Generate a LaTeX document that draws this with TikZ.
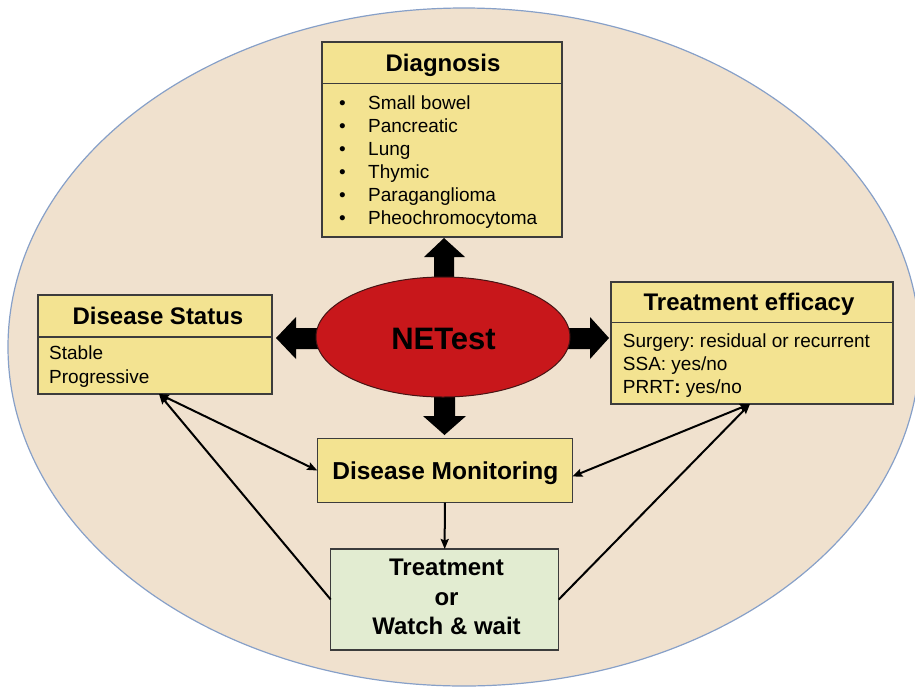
\documentclass[tikz,border=0pt]{standalone}
\usepackage{fontspec}
\setmainfont{Liberation Sans}
\frenchspacing
\usetikzlibrary{arrows.meta,calc,shapes.geometric}
\definecolor{bgfill}{RGB}{240,225,206}
\definecolor{bgline}{RGB}{135,160,200}
\definecolor{boxyellow}{RGB}{243,227,145}
\definecolor{boxgreen}{RGB}{226,236,209}
\definecolor{boxline}{RGB}{60,60,60}
\definecolor{netred}{RGB}{200,23,27}
\definecolor{netline}{RGB}{70,20,20}
\begin{document}
\begin{tikzpicture}[x=1pt,y=-1pt,
  box/.style={draw=boxline, line width=1.2pt, inner sep=0pt, outer sep=0pt, rectangle},
  ybox/.style={box, fill=boxyellow},
  gbox/.style={box, fill=boxgreen},
  ttl/.style={font=\fontsize{24}{29.7}\selectfont\bfseries, anchor=base, inner sep=0pt},
  bodytxt/.style={anchor=base west, inner sep=0pt},
  divider/.style={draw=boxline, line width=1.2pt},
  con/.style={line width=2pt, -{Stealth[length=10pt,width=8pt,inset=1.5pt]}},
  dcon/.style={line width=2pt, {Stealth[length=10pt,width=8pt,inset=1.5pt]}-{Stealth[length=10pt,width=8pt,inset=1.5pt]}},
  blk/.style={fill=black}
]
\useasboundingbox (0,0) rectangle (915,686);
\clip (0,0) rectangle (915,686);
% background
\draw[fill=bgfill, draw=bgline, line width=1.2pt] (464,347) ellipse [x radius=456pt, y radius=339pt];

% block arrows (behind the ellipse)
\fill[blk] (434,284) -- (434,257) -- (424,257) -- (444,238) -- (465,257) -- (454,257) -- (454,284) -- cycle;
\fill[blk] (434,390) -- (434,416) -- (423,416) -- (444.5,435) -- (466,416) -- (455,416) -- (455,390) -- cycle;
\fill[blk] (324,328) -- (296,328) -- (296,317) -- (276,338) -- (296,359) -- (296,349) -- (324,349) -- cycle;
\fill[blk] (562,328) -- (590,328) -- (590,317) -- (609,338) -- (590,359) -- (590,349) -- (562,349) -- cycle;

% NETest
\node[ellipse, fill=netred, draw=netline, line width=1pt, minimum width=254pt, minimum height=120pt, inner sep=0pt] (net) at (443,337) {};
\node[font=\fontsize{31}{36}\selectfont\bfseries, anchor=base, inner sep=0pt] (nett) at (443.5,349.4) {NETest};

% Diagnosis
\node[ybox, minimum width=240pt, minimum height=195pt] (diag) at (442,139.5) {};
\draw[divider] ($(diag.north west)+(0,41.5)$) -- ($(diag.north east)+(0,41.5)$);
\node[ttl] (diagt) at ($(diag.north)+(1,29.6)$) {Diagnosis};
\node[bodytxt, font=\fontsize{19}{22.9}\selectfont] (diagl) at (339,109.8) {\begin{tabular}[t]{@{}p{29pt}@{}l@{}}
\textbullet & Small bowel\\
\textbullet & Pancreatic\\
\textbullet & Lung\\
\textbullet & Thymic\\
\textbullet & Paraganglioma\\
\textbullet & Pheochromocytoma
\end{tabular}};

% Disease Status
\node[ybox, minimum width=234pt, minimum height=99pt] (ds) at (155,344.5) {};
\draw[divider] ($(ds.north west)+(0,42)$) -- ($(ds.north east)+(0,42)$);
\node[ttl] (dst) at ($(ds.north)+(3,29.6)$) {Disease Status};
\node[bodytxt, font=\fontsize{19}{24}\selectfont] (dsl) at (49,359.5) {\begin{tabular}[t]{@{}l@{}}
Stable\\
Progressive
\end{tabular}};

% Treatment efficacy
\node[ybox, minimum width=282pt, minimum height=122pt] (te) at (752,343) {};
\draw[divider] ($(te.north west)+(0,40.7)$) -- ($(te.north east)+(0,40.7)$);
\node[ttl] (tet) at ($(te.north)+(-3,28.6)$) {Treatment efficacy};
\node[bodytxt, font=\fontsize{19}{22.9}\selectfont] (tel) at (622.7,347.8) {\begin{tabular}[t]{@{}l@{}}
Surgery: residual or recurrent\\
SSA: yes/no\\
PRRT\textbf{:} yes/no
\end{tabular}};

% Disease Monitoring
\node[ybox, minimum width=255pt, minimum height=64pt] (mon) at (444.8,470.5) {};
\node[font=\fontsize{24.5}{29}\selectfont\bfseries, anchor=base, inner sep=0pt] (mont) at (445.3,479.5) {Disease Monitoring};

% Treatment or Watch & wait
\node[gbox, minimum width=228pt, minimum height=101pt] (tr) at (444.7,599.5) {};
\node[ttl] (trt) at (446.5,575.3) {\begin{tabular}[t]{@{}c@{}}
Treatment\\
or\\
Watch \& wait
\end{tabular}};

% connectors
\coordinate (dsp) at ($(ds.south)+(4,0)$);
\coordinate (tep) at ($(te.south)+(-2,0)$);
\coordinate (monr) at ($(mon.east)+(0,6)$);
\draw[dcon] (dsp) -- (mon.west);
\draw[con] (tr.west) -- (dsp);
\draw[dcon] (tep) -- (monr);
\draw[con] (tr.east) -- (tep);
\draw[con] (mon.south) -- (tr.north);
\end{tikzpicture}
\end{document}
